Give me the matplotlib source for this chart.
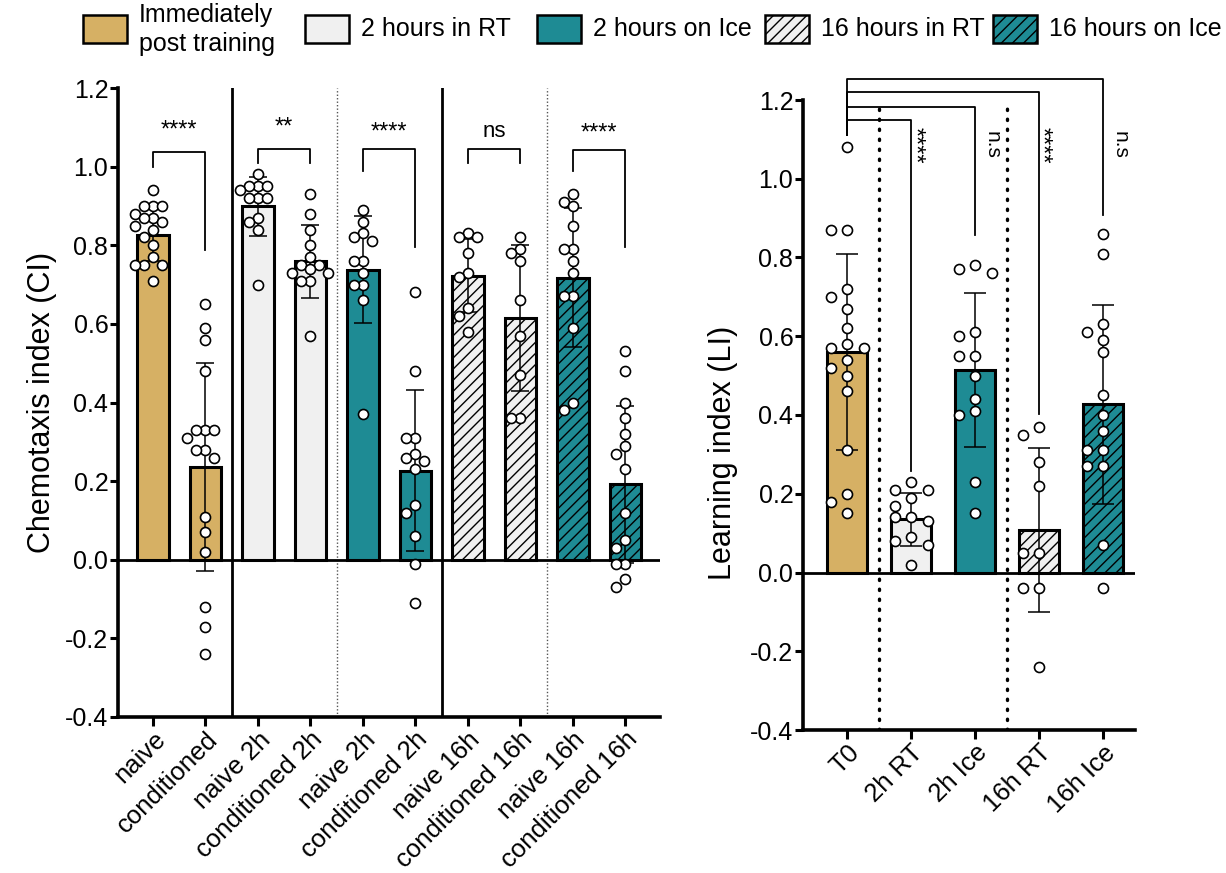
import matplotlib
matplotlib.use('Agg')
import matplotlib.pyplot as plt
import numpy as np
from matplotlib.patches import Rectangle

plt.rcParams['font.family'] = ['Liberation Sans', 'DejaVu Sans']
plt.rcParams['axes.unicode_minus'] = False
plt.rcParams['hatch.linewidth'] = 1.0

# ---------------- data ----------------
ci_labels = ["naive", "conditioned", "naive 2h", "conditioned 2h", "naive 2h",
             "conditioned 2h", "naive 16h", "conditioned 16h", "naive 16h",
             "conditioned 16h"]
ci_means = [0.826, 0.236, 0.899, 0.759, 0.738, 0.227, 0.723, 0.615, 0.717, 0.192]
ci_sd = [0.067, 0.265, 0.075, 0.093, 0.136, 0.205, 0.094, 0.185, 0.177, 0.200]

ci_naive = [0.94, 0.90, 0.90, 0.90, 0.88, 0.87, 0.87, 0.86, 0.85, 0.84, 0.82,
            0.80, 0.77, 0.75, 0.75, 0.75, 0.71]
ci_cond = [0.65, 0.59, 0.56, 0.48, 0.33, 0.33, 0.33, 0.31, 0.28, 0.28, 0.26,
           0.11, 0.07, 0.02, -0.12, -0.17, -0.24]
ci_naive_2h_rt = [0.98, 0.95, 0.95, 0.95, 0.94, 0.92, 0.92, 0.92, 0.87, 0.86,
                  0.84, 0.70]
ci_cond_2h_rt = [0.93, 0.88, 0.84, 0.80, 0.77, 0.75, 0.75, 0.74, 0.73, 0.73,
                 0.71, 0.71, 0.57]
ci_naive_2h_ice = [0.89, 0.86, 0.83, 0.82, 0.81, 0.76, 0.76, 0.73, 0.70, 0.70,
                   0.66, 0.37]
ci_cond_2h_ice = [0.68, 0.48, 0.31, 0.31, 0.27, 0.26, 0.25, 0.23, 0.14, 0.12,
                  0.06, -0.01, -0.11]
ci_naive_16h_rt = [0.83, 0.82, 0.82, 0.78, 0.73, 0.72, 0.64, 0.62, 0.58]
ci_cond_16h_rt = [0.82, 0.79, 0.78, 0.76, 0.66, 0.57, 0.47, 0.36, 0.36]
ci_naive_16h_ice = [0.93, 0.91, 0.90, 0.85, 0.79, 0.79, 0.76, 0.73, 0.67, 0.67,
                    0.59, 0.40, 0.38]
ci_cond_16h_ice = [0.53, 0.48, 0.40, 0.36, 0.32, 0.29, 0.27, 0.23, 0.12, 0.05,
                   0.03, -0.01, -0.01, -0.05, -0.07]
ci_points = [ci_naive, ci_cond, ci_naive_2h_rt, ci_cond_2h_rt, ci_naive_2h_ice,
             ci_cond_2h_ice, ci_naive_16h_rt, ci_cond_16h_rt, ci_naive_16h_ice,
             ci_cond_16h_ice]

ci_pairs = [(0, 1), (2, 3), (4, 5), (6, 7), (8, 9)]
ci_sig = ["****", "**", "****", "ns", "****"]
ci_br_top = [1.037, 1.044, 1.044, 1.044, 1.043]
ci_br_left = [1.000, 1.008, 0.990, 1.010, 0.989]
ci_br_right = [0.787, 1.008, 0.795, 1.010, 0.795]
ci_sig_y = [1.076, 1.084, 1.072, 1.076, 1.070]

li_labels = ["T0", "2h RT", "2h Ice", "16h RT", "16h Ice"]
li_means = [0.560, 0.135, 0.515, 0.107, 0.427]
li_sd = [0.250, 0.068, 0.195, 0.208, 0.252]
li_t0 = [1.08, 0.87, 0.87, 0.72, 0.70, 0.67, 0.62, 0.58, 0.57, 0.57, 0.54, 0.52,
         0.50, 0.46, 0.31, 0.20, 0.18, 0.15]
li_2h_rt = [0.23, 0.21, 0.21, 0.19, 0.17, 0.14, 0.14, 0.13, 0.09, 0.08, 0.07, 0.02]
li_2h_ice = [0.78, 0.77, 0.76, 0.61, 0.60, 0.55, 0.55, 0.50, 0.44, 0.41, 0.40,
             0.23, 0.15]
li_16h_rt = [0.37, 0.35, 0.28, 0.22, 0.05, 0.05, -0.04, -0.04, -0.24]
li_16h_ice = [0.86, 0.81, 0.63, 0.61, 0.59, 0.56, 0.45, 0.40, 0.36, 0.31, 0.31,
              0.27, 0.27, 0.07, -0.04]
li_points = [li_t0, li_2h_rt, li_2h_ice, li_16h_rt, li_16h_ice]

li_sig = ["****", "n.s", "****", "n.s"]
li_br_top = [1.148, 1.183, 1.220, 1.254]
li_br_right = [0.259, 0.858, 0.403, 0.909]
li_br_left = 1.112
li_sig_y = 1.085

legend_labels = ["Immediately\npost training", "2 hours in RT", "2 hours on Ice",
                 "16 hours in RT", "16 hours on Ice"]

# ---------------- styles ----------------
GOLD = '#D6B064'
LIGHT = '#F0F0F0'
TEAL = '#1E8B94'
HATCH = '///'
legend_colors = [GOLD, LIGHT, TEAL, LIGHT, TEAL]
legend_hatch = [None, None, None, HATCH, HATCH]
ci_colors = [GOLD, GOLD, LIGHT, LIGHT, TEAL, TEAL, LIGHT, LIGHT, TEAL, TEAL]
ci_hatch = [None, None, None, None, None, None, HATCH, HATCH, HATCH, HATCH]
li_colors = [GOLD, LIGHT, TEAL, LIGHT, TEAL]
li_hatch = [None, None, None, HATCH, HATCH]

W, H = 1226, 873
fig = plt.figure(figsize=(W / 100, H / 100), dpi=100)
ax1 = fig.add_axes([118 / W, 1 - 717 / H, 542 / W, 629 / H])
ax2 = fig.add_axes([803 / W, 1 - 730 / H, 332 / W, 630 / H])


def style_axis(ax):
    for s in ['top', 'right']:
        ax.spines[s].set_visible(False)
    for s in ['left', 'bottom']:
        ax.spines[s].set_linewidth(2.6)
    ax.tick_params(axis='y', direction='out', length=5.5, width=2.2,
                   labelsize=18, pad=1.5)
    ax.tick_params(axis='x', direction='out', length=6.5, width=2.2,
                   labelsize=18.5, pad=1)
    ax.set_ylim(-0.4, 1.2)
    ax.set_yticks(np.arange(-0.4, 1.21, 0.2))
    ax.set_yticklabels([f"{v:.1f}" for v in np.arange(-0.4, 1.21, 0.2)])


def swarm(ax, x0, vals, step_px, min_px):
    to_px = ax.transData.transform
    from_px = ax.transData.inverted().transform
    cx, _ = to_px((x0, 0))
    placed, out = [], []
    for v in vals:
        _, py = to_px((x0, v))
        px = cx
        for k in (0, -1, 1, -2, 2, -3, 3, -4, 4):
            px = cx + k * step_px
            if all(np.hypot(px - qx, py - qy) >= min_px for qx, qy in placed):
                break
        placed.append((px, py))
        out.append(from_px((px, py))[0])
    return out


# ---------------- left panel ----------------
style_axis(ax1)
ax1.set_xlim(-0.667, 9.66)
x1 = np.arange(len(ci_labels))
for i in x1:
    ax1.bar(i, ci_means[i], width=0.6, color=ci_colors[i], edgecolor='black',
            linewidth=2.2, hatch=ci_hatch[i], zorder=2)
ax1.errorbar(x1, ci_means, yerr=ci_sd, fmt='none', ecolor='black',
             elinewidth=1.1, capsize=6.5, capthick=1.1, zorder=3)
for i in x1:
    xs = swarm(ax1, i, ci_points[i], 9.0, 9.0)
    ax1.scatter(xs, ci_points[i], s=52, facecolor='white', edgecolor='black',
                linewidth=1.2, zorder=4)
ax1.axhline(0, color='black', lw=2.0, zorder=2.5)
for xv in (1.5, 5.5):
    ax1.axvline(xv, color='black', lw=2.0, zorder=1)
for xv in (3.5, 7.5):
    ax1.axvline(xv, color='#555555', lw=1.0, ls=(0, (1, 1.5)), zorder=1)
ax1.set_xticks(x1)
ax1.set_xticklabels(ci_labels, rotation=45, ha='right', va='top',
                    rotation_mode='anchor')
ax1.set_ylabel("Chemotaxis index (CI)", fontsize=22)
ax1.yaxis.set_label_coords(-0.113, 0.5)

for k, (a, b) in enumerate(ci_pairs):
    ax1.plot([a, a, b, b], [ci_br_left[k], ci_br_top[k], ci_br_top[k], ci_br_right[k]],
             color='black', lw=1.3, clip_on=False, zorder=5)
    fs = 16 if ci_sig[k] == 'ns' else 17
    ax1.text((a + b) / 2, ci_sig_y[k], ci_sig[k], ha='center', va='baseline',
             fontsize=fs)

# ---------------- right panel ----------------
style_axis(ax2)
ax2.set_xlim(-0.69, 4.5)
x2 = np.arange(len(li_labels))
for i in x2:
    ax2.bar(i, li_means[i], width=0.62, color=li_colors[i], edgecolor='black',
            linewidth=2.2, hatch=li_hatch[i], zorder=2)
ax2.errorbar(x2, li_means, yerr=li_sd, fmt='none', ecolor='black',
             elinewidth=1.1, capsize=8, capthick=1.1, zorder=3)
for i in x2:
    xs = swarm(ax2, i, li_points[i], 16.5, 11.0)
    ax2.scatter(xs, li_points[i], s=52, facecolor='white', edgecolor='black',
                linewidth=1.2, zorder=4)
ax2.axhline(0, color='black', lw=2.0, zorder=2.5)
for xv in (0.5, 2.5):
    ax2.axvline(xv, color='black', lw=2.4, ls=(0, (0.4, 2.6)),
                dash_capstyle='round', zorder=1)
ax2.set_xticks(x2)
ax2.set_xticklabels(li_labels, rotation=45, ha='right', va='top',
                    rotation_mode='anchor')
ax2.set_ylabel("Learning index (LI)", fontsize=22)
ax2.yaxis.set_label_coords(-0.195, 0.44)

for k in range(4):
    tgt = k + 1
    ax2.plot([0, 0, tgt, tgt], [li_br_left, li_br_top[k], li_br_top[k], li_br_right[k]],
             color='black', lw=1.3, clip_on=False, zorder=5)
    if li_sig[k] == '****':
        ax2.text(tgt + 0.04, li_sig_y, li_sig[k], rotation=-90, ha='center',
                 va='center', fontsize=17)
    else:
        ax2.text(tgt + 0.27, li_sig_y, li_sig[k], rotation=-90, ha='center',
                 va='center', fontsize=15)

# ---------------- legend ----------------
axl = fig.add_axes([0, 0, 1, 1])
axl.set_xlim(0, W)
axl.set_ylim(H, 0)
axl.axis('off')
leg_x = [83, 305, 537, 765, 993]
for k, lab in enumerate(legend_labels):
    axl.add_patch(Rectangle((leg_x[k], 15), 44, 28, facecolor=legend_colors[k],
                            edgecolor='black', linewidth=1.8,
                            hatch=legend_hatch[k]))
    axl.text(leg_x[k] + 56, 29.5, lab, ha='left', va='center', fontsize=18,
             linespacing=1.25)

fig.savefig('out.png', dpi=100)
